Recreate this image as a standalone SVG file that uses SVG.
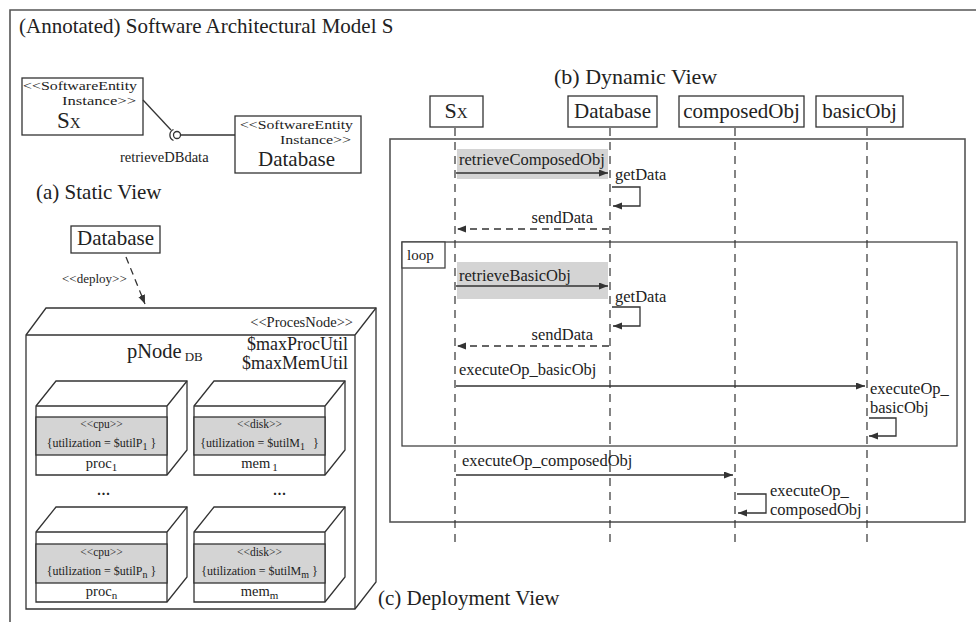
<svg xmlns="http://www.w3.org/2000/svg" width="976" height="622" viewBox="0 0 976 622">
  <style>
    text { font-family: "Liberation Serif", "Times New Roman", serif; fill: #222; }
    .big { font-size: 21px; }
    .msg { font-size: 16.5px; }
    .stereo { font-size: 14.5px; }
    .ent { font-size: 13.5px; }
    .small { font-size: 12px; }
    .box { fill: #fff; stroke: #333; stroke-width: 1.3; }
    .band { fill: #d4d4d4; stroke: #333; stroke-width: 1.3; }
    .hl { fill: #d4d4d4; stroke: none; }
    .line { fill: none; stroke: #333; stroke-width: 1.3; }
    .frame { fill: none; stroke: #555; stroke-width: 1.6; }
    .life { fill: none; stroke: #333; stroke-width: 1.2; stroke-dasharray: 8 6; }
    .ret { fill: none; stroke: #333; stroke-width: 1.3; stroke-dasharray: 7 5; }
  </style>
  <defs>
    <marker id="arrow" markerUnits="userSpaceOnUse" markerWidth="10" markerHeight="8" refX="9" refY="3.5" orient="auto">
      <path d="M0,0 L9,3.5 L0,7 z" fill="#333"/>
    </marker>
  </defs>

  <rect width="976" height="622" fill="#fff"/>

  <!-- outer model frame (open to the right and bottom) -->
  <path class="frame" d="M10,622 V10 H976"/>
  <text class="big" x="19" y="33">(Annotated) Software Architectural Model S</text>

  <!-- ===== static view ===== -->
  <g id="sx-component">
    <rect class="box" x="22" y="78" width="121" height="57"/>
    <text class="ent"><tspan x="23" y="90" textLength="114" lengthAdjust="spacingAndGlyphs">&lt;&lt;SoftwareEntity</tspan><tspan x="62" y="105" textLength="74" lengthAdjust="spacingAndGlyphs">Instance&gt;&gt;</tspan></text>
    <text x="57" y="128" font-size="23">S<tspan font-size="15">X</tspan></text>
  </g>
  <g id="db-component">
    <rect class="box" x="235" y="116" width="126" height="57"/>
    <text class="ent"><tspan x="240" y="129" textLength="113" lengthAdjust="spacingAndGlyphs">&lt;&lt;SoftwareEntity</tspan><tspan x="280" y="144" textLength="71" lengthAdjust="spacingAndGlyphs">Instance&gt;&gt;</tspan></text>
    <text class="big" x="258" y="166">Database</text>
  </g>
  <g id="db-interface">
    <circle cx="177" cy="135" r="3.5" fill="#fff" stroke="#333" stroke-width="1.3"/>
    <path class="line" d="M173.5,129.5 A6,6 0 0,0 173.5,140.5"/>
    <text class="stereo" x="120" y="162">retrieveDBdata</text>
  </g>
  <text class="big" x="36" y="199">(a) Static View</text>

  <!-- ===== deployment view ===== -->
  <g id="db-artifact">
    <rect class="box" x="71" y="226" width="89" height="27"/>
    <text class="big" x="115.5" y="245" text-anchor="middle">Database</text>
  </g>
  <text x="62" y="283" font-size="13">&lt;&lt;deploy&gt;&gt;</text>

  <g id="pnode-db">
    <path class="box" d="M26,335 L46,308 H376 V582 L355,609 H26 Z"/>
    <path class="line" d="M26,335 H355 L376,308 M355,335 V609"/>
    <text class="stereo" x="353" y="327" text-anchor="end">&lt;&lt;ProcesNode&gt;&gt;</text>
    <text x="127" y="358" font-size="20.5">pNode<tspan font-size="13" dx="3" dy="3">DB</tspan></text>
    <text x="348" y="350" font-size="18" text-anchor="end">$maxProcUtil</text>
    <text x="348" y="369" font-size="18" text-anchor="end">$maxMemUtil</text>

    <g id="proc-1">
      <path class="box" d="M36,406 L56,381 H187 V450 L167,475 H36 Z"/>
      <path class="line" d="M36,406 H167 L187,381 M167,406 V475"/>
      <rect class="band" x="36" y="417" width="131" height="38"/>
      <text x="101.5" y="428" text-anchor="middle" font-size="11.5">&lt;&lt;cpu&gt;&gt;</text>
      <text class="small" x="101.5" y="447" text-anchor="middle">{utilization = $utilP<tspan font-size="10" dy="3">1</tspan><tspan dy="-3"> }</tspan></text>
      <text x="101.5" y="468" font-size="14.5" text-anchor="middle">proc<tspan font-size="11" dy="3">1</tspan></text>
    </g>
    <g id="mem-1">
      <path class="box" d="M194,406 L214,381 H345 V450 L325,475 H194 Z"/>
      <path class="line" d="M194,406 H325 L345,381 M325,406 V475"/>
      <rect class="band" x="194" y="417" width="131" height="38"/>
      <text x="259.5" y="428" text-anchor="middle" font-size="11.5">&lt;&lt;disk&gt;&gt;</text>
      <text class="small" x="259.5" y="447" text-anchor="middle">{utilization = $utilM<tspan font-size="10" dy="3">1</tspan><tspan dx="8" dy="-3">}</tspan></text>
      <text x="259.5" y="468" font-size="14.5" text-anchor="middle">mem<tspan font-size="11" dx="2" dy="3">1</tspan></text>
    </g>
    <text x="104" y="495" font-size="14" text-anchor="middle" font-weight="bold" letter-spacing="1">...</text>
    <text x="280" y="495" font-size="14" text-anchor="middle" font-weight="bold" letter-spacing="1">...</text>
    <g id="proc-n">
      <path class="box" d="M36,532 L56,507 H187 V577 L167,602 H36 Z"/>
      <path class="line" d="M36,532 H167 L187,507 M167,532 V602"/>
      <rect class="band" x="36" y="544" width="131" height="39"/>
      <text x="101.5" y="556" text-anchor="middle" font-size="11.5">&lt;&lt;cpu&gt;&gt;</text>
      <text class="small" x="101.5" y="575" text-anchor="middle">{utilization = $utilP<tspan font-size="10" dy="3">n</tspan><tspan dy="-3"> }</tspan></text>
      <text x="101.5" y="596" font-size="14.5" text-anchor="middle">proc<tspan font-size="11" dy="3">n</tspan></text>
    </g>
    <g id="mem-m">
      <path class="box" d="M194,532 L214,507 H345 V577 L325,602 H194 Z"/>
      <path class="line" d="M194,532 H325 L345,507 M325,532 V602"/>
      <rect class="band" x="194" y="544" width="131" height="39"/>
      <text x="259.5" y="556" text-anchor="middle" font-size="11.5">&lt;&lt;disk&gt;&gt;</text>
      <text class="small" x="259.5" y="575" text-anchor="middle">{utilization = $utilM<tspan font-size="10" dy="3">m</tspan><tspan dy="-3"> }</tspan></text>
      <text x="259.5" y="596" font-size="14.5" text-anchor="middle">mem<tspan font-size="11" dy="3">m</tspan></text>
    </g>
  </g>
  <text class="big" x="378" y="605">(c) Deployment View</text>

  <!-- ===== dynamic view ===== -->
  <text x="554" y="84" font-size="22">(b) Dynamic View</text>

  <g id="seq-frame">
    <rect class="frame" x="390" y="139" width="575" height="383"/>
  </g>
  <g id="loop-fragment">
    <rect fill="none" stroke="#444" stroke-width="1.3" x="402" y="242" width="555" height="204"/>
    <rect fill="#fff" stroke="#444" stroke-width="1.3" x="402" y="242" width="43" height="26"/>
    <text x="407" y="260" font-size="15">loop</text>
  </g>

  <g id="lifeline-sx">
    <rect class="box" x="430" y="96" width="53" height="31"/>
    <text x="456" y="118" font-size="22" text-anchor="middle">S<tspan font-size="15">X</tspan></text>
  </g>
  <g id="lifeline-database">
    <rect class="box" x="568" y="96" width="89" height="31"/>
    <text class="big" x="612.5" y="118" text-anchor="middle">Database</text>
  </g>
  <g id="lifeline-composedobj">
    <rect class="box" x="679" y="96" width="125" height="31"/>
    <text class="big" x="741.5" y="118" text-anchor="middle">composedObj</text>
  </g>
  <g id="lifeline-basicobj">
    <rect class="box" x="816" y="96" width="87" height="31"/>
    <text class="big" x="859.5" y="118" text-anchor="middle">basicObj</text>
  </g>

  <!-- highlighted call regions -->
  <rect class="hl" x="457" y="149" width="151" height="30"/>
  <rect class="hl" x="457" y="262" width="151" height="37"/>

  <g id="connectors">
    <!-- static view -->
    <path class="line" d="M143,100 L171,130"/>
    <path class="line" d="M180.5,135 H235"/>
    <!-- deployment -->
    <path class="ret" d="M126,257 L145,304" stroke-dasharray="6 5" marker-end="url(#arrow)"/>

    <!-- lifelines -->
    <path class="life" d="M455,128 V545"/>
    <path class="life" d="M610,128 V545"/>
    <path class="life" d="M735,128 V545"/>
    <path class="life" d="M867,128 V545"/>

    <!-- first retrieval -->
    <path class="line" d="M456,173 H608" marker-end="url(#arrow)"/>
    <path class="line" d="M612,187 H640 V206 H613" marker-end="url(#arrow)"/>
    <path class="ret" d="M609,229 H457" marker-end="url(#arrow)"/>

    <!-- loop body -->
    <path class="line" d="M456,286 H608" marker-end="url(#arrow)"/>
    <path class="line" d="M612,307 H640 V326 H613" marker-end="url(#arrow)"/>
    <path class="ret" d="M609,346 H457" marker-end="url(#arrow)"/>
    <path class="line" d="M456,386 H865" marker-end="url(#arrow)"/>
    <path class="line" d="M869,418 H896 V436 H869" marker-end="url(#arrow)"/>

    <!-- after loop -->
    <path class="line" d="M456,475 H733" marker-end="url(#arrow)"/>
    <path class="line" d="M737,494 H766 V513 H738" marker-end="url(#arrow)"/>
  </g>

  <g id="message-labels">
    <text class="msg" x="459" y="165">retrieveComposedObj</text>
    <text class="msg" x="615" y="180">getData</text>
    <text class="msg" x="593" y="223" text-anchor="end">sendData</text>
    <text class="msg" x="459" y="281">retrieveBasicObj</text>
    <text class="msg" x="615" y="302">getData</text>
    <text class="msg" x="593" y="340" text-anchor="end">sendData</text>
    <text class="msg" x="459" y="375">executeOp_basicObj</text>
    <text class="msg" x="870" y="394" font-size="16">executeOp_</text>
    <text class="msg" x="870" y="413" font-size="16">basicObj</text>
    <text class="msg" x="462" y="466">executeOp_composedObj</text>
    <text class="msg" x="770" y="496" font-size="16">executeOp_</text>
    <text class="msg" x="770" y="515" font-size="16">composedObj</text>
  </g>
</svg>
